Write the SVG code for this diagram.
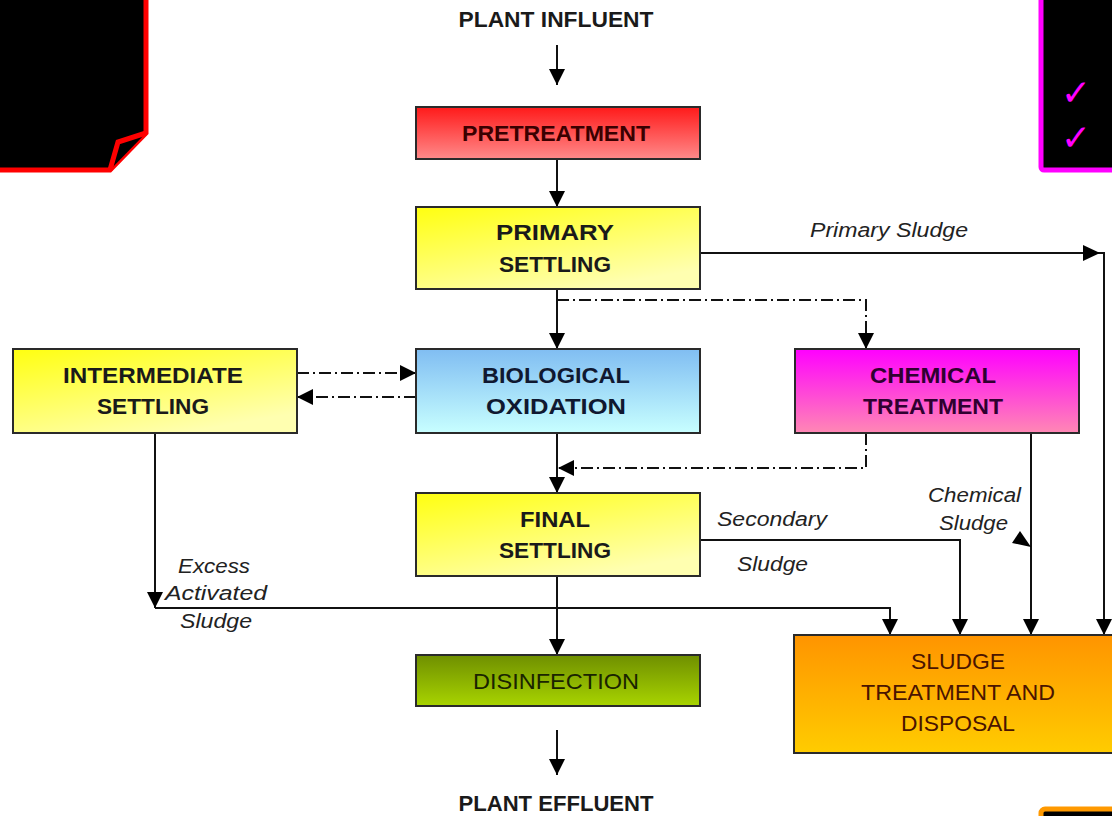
<svg xmlns="http://www.w3.org/2000/svg" width="1112" height="816" viewBox="0 0 1112 816">
  <defs>
    <style>
      .box { stroke: #2a2a2a; stroke-width: 2; }
      .t { font-family: "Liberation Sans", Arial, sans-serif; font-weight: bold; font-size: 22px; text-anchor: middle; fill: #1a1a1a; }
      .tn { font-family: "Liberation Sans", Arial, sans-serif; font-size: 22px; text-anchor: middle; }
      .lbl { font-family: "Liberation Sans", Arial, sans-serif; font-style: italic; font-size: 20px; fill: #222; }
      .ln { fill: none; stroke: #111; stroke-width: 2; }
      .dd { fill: none; stroke: #111; stroke-width: 2; stroke-dasharray: 12 4 2 4; }
      .chk { font-family: "DejaVu Sans", sans-serif; font-size: 36px; fill: #ff00ff; text-anchor: middle; }
    </style>
    <marker id="ah" viewBox="0 0 16 16" refX="16" refY="8" markerWidth="16" markerHeight="16" markerUnits="userSpaceOnUse" orient="auto">
      <path d="M0,0 L16,8 L0,16 Z" fill="#000"/>
    </marker>
    <linearGradient id="gRed" x1="0" y1="0" x2="0" y2="1">
      <stop offset="0" stop-color="#ff1a1a"/>
      <stop offset="1" stop-color="#ff8a8a"/>
    </linearGradient>
    <linearGradient id="gYel" x1="0" y1="0" x2="0.6" y2="1">
      <stop offset="0" stop-color="#ffff10"/>
      <stop offset="1" stop-color="#ffffb0"/>
    </linearGradient>
    <linearGradient id="gBlue" x1="0" y1="0" x2="0" y2="1">
      <stop offset="0" stop-color="#80bdf2"/>
      <stop offset="1" stop-color="#c8ffff"/>
    </linearGradient>
    <linearGradient id="gMag" x1="0" y1="0" x2="0" y2="1">
      <stop offset="0" stop-color="#ff00ff"/>
      <stop offset="1" stop-color="#ff88b4"/>
    </linearGradient>
    <linearGradient id="gGrn" x1="0" y1="0" x2="0" y2="1">
      <stop offset="0" stop-color="#6f8f00"/>
      <stop offset="1" stop-color="#a8d400"/>
    </linearGradient>
    <linearGradient id="gOra" x1="0" y1="0" x2="0" y2="1">
      <stop offset="0" stop-color="#ff9400"/>
      <stop offset="1" stop-color="#ffcc00"/>
    </linearGradient>
  </defs>

  <rect x="0" y="0" width="1112" height="816" fill="#ffffff"/>

  <!-- decorative black panels -->
  <g id="panel-left">
    <path d="M-5,-5 H146 V133 L110,170 H-5 Z" fill="#000" stroke="#ff0000" stroke-width="5"/>
    <path d="M146,133 L118,142 L110,170" fill="#000" stroke="#ff0000" stroke-width="5" stroke-linejoin="miter"/>
  </g>
  <g id="panel-right">
    <rect x="1041" y="-5" width="80" height="175" rx="3" fill="#000" stroke="#ff00ff" stroke-width="5"/>
    <text class="chk" x="1076" y="105">✓</text>
    <text class="chk" x="1076" y="150">✓</text>
  </g>
  <g id="panel-bottom">
    <rect x="1041" y="809" width="90" height="30" rx="4" fill="#000" stroke="#ff9900" stroke-width="5"/>
  </g>

  <!-- connectors -->
  <g id="connectors">
    <path class="ln" d="M557,45 V85" marker-end="url(#ah)"/>
    <path class="ln" d="M557,159 V207" marker-end="url(#ah)"/>
    <path class="ln" d="M557,289 V349" marker-end="url(#ah)"/>
    <path class="ln" d="M700,253 H1104 V635" marker-end="url(#ah)"/>
    <path d="M1083,245 L1100,253 L1083,261 Z" fill="#000"/>
    <path class="dd" d="M557,300 H866 V349" marker-end="url(#ah)"/>
    <path class="dd" d="M297,373 H416" marker-end="url(#ah)"/>
    <path class="dd" d="M416,397 H297" marker-end="url(#ah)"/>
    <path class="ln" d="M557,433 V493" marker-end="url(#ah)"/>
    <path class="dd" d="M866,433 V468 H558" marker-end="url(#ah)"/>
    <path class="ln" d="M155,433 V608" marker-end="url(#ah)"/>
    <path class="ln" d="M155,608 H890 V635" marker-end="url(#ah)"/>
    <path class="ln" d="M700,540 H960 V635" marker-end="url(#ah)"/>
    <path class="ln" d="M1031,433 V635" marker-end="url(#ah)"/>
    <path d="M1031,547 L1012,543 L1020,531 Z" fill="#000"/>
    <path class="ln" d="M557,576 V655" marker-end="url(#ah)"/>
    <path class="ln" d="M557,730 V775" marker-end="url(#ah)"/>
  </g>

  <!-- terminal labels -->
  <g id="influent">
    <text class="t" x="556" y="27" textLength="195" lengthAdjust="spacingAndGlyphs">PLANT INFLUENT</text>
  </g>
  <g id="effluent">
    <text class="t" x="556" y="811" textLength="195" lengthAdjust="spacingAndGlyphs">PLANT EFFLUENT</text>
  </g>

  <!-- nodes -->
  <g id="pretreatment">
    <rect class="box" x="416" y="107" width="284" height="52" fill="url(#gRed)"/>
    <text class="t" x="556" y="141" style="fill:#3a0000" textLength="188" lengthAdjust="spacingAndGlyphs">PRETREATMENT</text>
  </g>
  <g id="primary-settling">
    <rect class="box" x="416" y="207" width="284" height="82" fill="url(#gYel)"/>
    <text class="t" x="555" y="240" textLength="118" lengthAdjust="spacingAndGlyphs">PRIMARY</text>
    <text class="t" x="555" y="272" textLength="112" lengthAdjust="spacingAndGlyphs">SETTLING</text>
  </g>
  <g id="intermediate-settling">
    <rect class="box" x="13" y="349" width="284" height="84" fill="url(#gYel)"/>
    <text class="t" x="153" y="383" textLength="180" lengthAdjust="spacingAndGlyphs">INTERMEDIATE</text>
    <text class="t" x="153" y="414" textLength="112" lengthAdjust="spacingAndGlyphs">SETTLING</text>
  </g>
  <g id="biological-oxidation">
    <rect class="box" x="416" y="349" width="284" height="84" fill="url(#gBlue)"/>
    <text class="t" x="556" y="383" style="fill:#101830" textLength="148" lengthAdjust="spacingAndGlyphs">BIOLOGICAL</text>
    <text class="t" x="556" y="414" style="fill:#101830" textLength="140" lengthAdjust="spacingAndGlyphs">OXIDATION</text>
  </g>
  <g id="chemical-treatment">
    <rect class="box" x="795" y="349" width="284" height="84" fill="url(#gMag)"/>
    <text class="t" x="933" y="383" style="fill:#300030" textLength="126" lengthAdjust="spacingAndGlyphs">CHEMICAL</text>
    <text class="t" x="933" y="414" style="fill:#300030" textLength="140" lengthAdjust="spacingAndGlyphs">TREATMENT</text>
  </g>
  <g id="final-settling">
    <rect class="box" x="416" y="493" width="284" height="83" fill="url(#gYel)"/>
    <text class="t" x="555" y="527" textLength="70" lengthAdjust="spacingAndGlyphs">FINAL</text>
    <text class="t" x="555" y="558" textLength="112" lengthAdjust="spacingAndGlyphs">SETTLING</text>
  </g>
  <g id="disinfection">
    <rect class="box" x="416" y="655" width="284" height="51" fill="url(#gGrn)"/>
    <text class="tn" x="556" y="689" fill="#1a2400" textLength="166" lengthAdjust="spacingAndGlyphs">DISINFECTION</text>
  </g>
  <g id="sludge-treatment">
    <rect class="box" x="794" y="635" width="330" height="118" fill="url(#gOra)"/>
    <text class="tn" x="958" y="669" fill="#4a1400" textLength="94" lengthAdjust="spacingAndGlyphs">SLUDGE</text>
    <text class="tn" x="958" y="700" fill="#4a1400" textLength="194" lengthAdjust="spacingAndGlyphs">TREATMENT AND</text>
    <text class="tn" x="958" y="731" fill="#4a1400" textLength="114" lengthAdjust="spacingAndGlyphs">DISPOSAL</text>
  </g>

  <!-- connector labels -->
  <g id="labels">
    <text class="lbl" x="810" y="237" textLength="158" lengthAdjust="spacingAndGlyphs">Primary Sludge</text>
    <text class="lbl" x="717" y="526" textLength="110" lengthAdjust="spacingAndGlyphs">Secondary</text>
    <text class="lbl" x="737" y="571" textLength="71" lengthAdjust="spacingAndGlyphs">Sludge</text>
    <text class="lbl" x="928" y="502" textLength="93" lengthAdjust="spacingAndGlyphs">Chemical</text>
    <text class="lbl" x="939" y="530" textLength="69" lengthAdjust="spacingAndGlyphs">Sludge</text>
    <text class="lbl" x="178" y="573" textLength="72" lengthAdjust="spacingAndGlyphs">Excess</text>
    <text class="lbl" x="165" y="600" textLength="102" lengthAdjust="spacingAndGlyphs">Activated</text>
    <text class="lbl" x="180" y="628" textLength="72" lengthAdjust="spacingAndGlyphs">Sludge</text>
  </g>
</svg>
